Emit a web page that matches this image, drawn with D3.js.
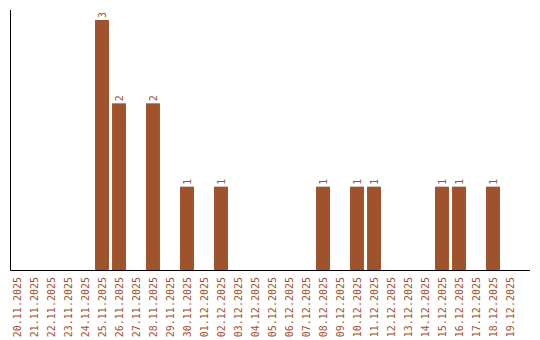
<!DOCTYPE html>
<html>
<head>
<meta charset="utf-8">
<script src="https://cdn.jsdelivr.net/npm/d3@7"></script>
<style>
  body { margin: 0; background: #fff; }
  text { font-family: "DejaVu Sans Mono", monospace; font-size: 10px; fill: #a0522d; }
</style>
</head>
<body>
<svg id="chart" width="540" height="340"></svg>
<script>
// days shown on the axis
var days = ["20.11.2025","21.11.2025","22.11.2025","23.11.2025","24.11.2025","25.11.2025",
  "26.11.2025","27.11.2025","28.11.2025","29.11.2025","30.11.2025","01.12.2025","02.12.2025",
  "03.12.2025","04.12.2025","05.12.2025","06.12.2025","07.12.2025","08.12.2025","09.12.2025",
  "10.12.2025","11.12.2025","12.12.2025","13.12.2025","14.12.2025","15.12.2025","16.12.2025",
  "17.12.2025","18.12.2025","19.12.2025"];
var counts = [0,0,0,0,0,3,2,0,2,0,1,0,1,0,0,0,0,0,1,0,1,1,0,0,0,1,1,0,1,0];

var data = days.map(function(d, i) { return {day: d, count: counts[i]}; });

const barColor = "#a0522d";
var svg = d3.select("#chart");

var x = d3.scaleBand().domain(days).range([8.5, 518.5])
  .paddingInner(0.18).paddingOuter(0.09);
var y = d3.scaleLinear().domain([0, 3.12]).range([270, 10]);

// bars
svg.append("g").selectAll("rect")
  .data(data.filter(function(d) { return d.count > 0; }))
  .enter().append("rect")
    .attr("x", function(d) { return x(d.day); })
    .attr("y", function(d) { return y(d.count); })
    .attr("width", x.bandwidth())
    .attr("height", function(d) { return y(0) - y(d.count); })
    .attr("fill", barColor);

// value labels, rotated like the dates
svg.append("g").selectAll("text")
  .data(data.filter(function(d) { return d.count > 0; }))
  .enter().append("text")
    .attr("transform", function(d) {
      return "translate(" + (x(d.day) + x.bandwidth() / 2 + 3.5) + "," + (y(d.count) - 2) + ") rotate(-90)";
    })
    .attr("text-anchor", "start")
    .text(function(d) { return d.count; });

// x axis
var xAxis = d3.axisBottom(x).tickSize(0).tickPadding(0);
var gx = svg.append("g").attr("transform", "translate(0,270)").call(xAxis);
gx.select(".domain").remove();
gx.selectAll("text")
  .attr("transform", "rotate(-90)")
  .attr("text-anchor", "end")
  .attr("x", -7)
  .attr("y", 0)
  .attr("dy", "0.35em")
  .style("font-family", "DejaVu Sans Mono, monospace")
  .style("font-size", "10px")
  .attr("fill", barColor);

// axis lines
svg.append("line").attr("x1", 10.5).attr("x2", 10.5).attr("y1", 10).attr("y2", 270.5)
  .attr("stroke", "#000");
svg.append("line").attr("x1", 10.5).attr("x2", 530).attr("y1", 270.5).attr("y2", 270.5)
  .attr("stroke", "#000");
</script>
</body>
</html>
